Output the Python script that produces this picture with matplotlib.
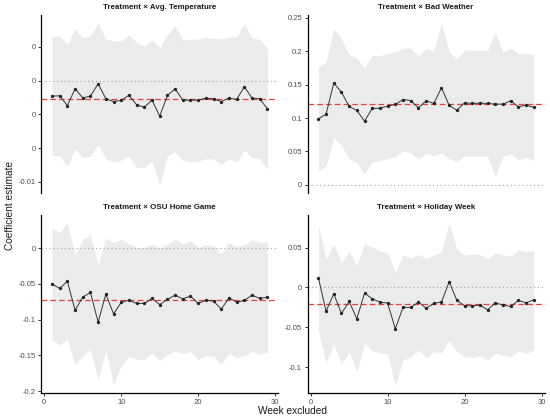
import numpy as np
import matplotlib
matplotlib.use("Agg")
import matplotlib.pyplot as plt

plt.rcParams['font.family'] = ['Liberation Sans', 'DejaVu Sans']

weeks = list(range(1, 30))

# Treatment x Avg. Temperature
temp_est = [-0.00114, -0.00112, -0.00184, -0.00060, -0.00127, -0.00114, -0.00022, -0.00134, -0.00154, -0.00146,
            -0.00107, -0.00179, -0.00196, -0.00144, -0.00263, -0.00109, -0.00060, -0.00144, -0.00144, -0.00144,
            -0.00129, -0.00134, -0.00154, -0.00129, -0.00139, -0.00045, -0.00129, -0.00134, -0.00209]
temp_ci = [0.00442, 0.00444, 0.00449, 0.00447, 0.00442, 0.00447, 0.00449, 0.00442, 0.00449, 0.00442,
           0.00449, 0.00462, 0.00447, 0.00447, 0.00509, 0.00447, 0.00467, 0.00444, 0.00454, 0.00452,
           0.00449, 0.00447, 0.00464, 0.00454, 0.00464, 0.00467, 0.00442, 0.00442, 0.00447]
temp_full = -0.00137
temp_ticks = [0.0025, 0.0, -0.0025, -0.005, -0.0075]
temp_labels = ['0', '0', '0', '0', '-0.01']

# Treatment x Bad Weather
weather_est = [0.0988, 0.1058, 0.1522, 0.1387, 0.1173, 0.1113, 0.0953, 0.1143, 0.1148, 0.1178,
               0.1203, 0.1277, 0.1262, 0.1153, 0.1258, 0.1218, 0.1452, 0.1188, 0.1118, 0.1228,
               0.1218, 0.1223, 0.1218, 0.1208, 0.1208, 0.1258, 0.1168, 0.1193, 0.1158]
weather_ci = [0.0778, 0.0778, 0.0813, 0.0798, 0.0778, 0.0783, 0.0793, 0.0793, 0.0788, 0.0783,
              0.0783, 0.0768, 0.0783, 0.0768, 0.0788, 0.0778, 0.0968, 0.0798, 0.0768, 0.0793,
              0.0793, 0.0788, 0.0793, 0.1078, 0.0778, 0.0788, 0.0793, 0.0778, 0.0793]
weather_full = 0.121
weather_ticks = [0, 0.05, 0.1, 0.15, 0.2, 0.25]
weather_labels = ['0', '0.05', '0.1', '0.15', '0.2', '0.25']

# Treatment x OSU Home Game
osu_est = [-0.0499, -0.0564, -0.0462, -0.0867, -0.0685, -0.0620, -0.1035, -0.0643, -0.0918, -0.0760,
           -0.0727, -0.0774, -0.0774, -0.0704, -0.0788, -0.0718, -0.0657, -0.0709, -0.0671, -0.0774,
           -0.0727, -0.0741, -0.0853, -0.0695, -0.0755, -0.0732, -0.0657, -0.0704, -0.0685]
osu_ci = [0.0783, 0.0788, 0.0811, 0.0769, 0.0811, 0.0797, 0.0802, 0.0783, 0.0993, 0.0886,
          0.0783, 0.0783, 0.0778, 0.0760, 0.0783, 0.0774, 0.0783, 0.0764, 0.0774, 0.0783,
          0.0774, 0.0769, 0.0774, 0.0769, 0.0774, 0.0774, 0.0778, 0.0783, 0.0769]
osu_full = -0.0723
osu_ticks = [0, -0.05, -0.1, -0.15, -0.2]
osu_labels = ['0', '-0.05', '-0.1', '-0.15', '-0.2']

# Treatment x Holiday Week
holiday_est = [0.0122, -0.0298, -0.0080, -0.0327, -0.0176, -0.0394, -0.0071, -0.0143, -0.0184, -0.0197,
               -0.0520, -0.0251, -0.0251, -0.0184, -0.0260, -0.0201, -0.0184, 0.0071, -0.0163, -0.0230,
               -0.0230, -0.0222, -0.0281, -0.0193, -0.0222, -0.0239, -0.0163, -0.0193, -0.0155]
holiday_ci = [0.0662, 0.0649, 0.0629, 0.0637, 0.0633, 0.0662, 0.0624, 0.0649, 0.0641, 0.0633,
              0.0704, 0.0658, 0.0624, 0.0599, 0.0624, 0.0608, 0.0633, 0.0737, 0.0641, 0.0637,
              0.0649, 0.0637, 0.0633, 0.0629, 0.0629, 0.0633, 0.0633, 0.0641, 0.0624]
holiday_full = -0.0205
holiday_ticks = [0.05, 0, -0.05, -0.1]
holiday_labels = ['0.05', '0', '-0.05', '-0.1']

x_ticks = [0, 10, 20, 30]

W, H = 550, 420


def panel(rect, title, est, ci, full, yticks, ylabels, bottom):
    ax = fig.add_axes([rect[0] / W, 1 - (rect[1] + rect[3]) / H, rect[2] / W, rect[3] / H])
    est = np.array(est)
    ci = np.array(ci)
    lo, hi = est - ci, est + ci
    ax.fill_between(weeks, lo, hi, color='#EBEBEB', linewidth=0)
    ax.axhline(0, color='#A0A0A0', linestyle=(0, (1, 2.5)), linewidth=0.8)
    ax.axhline(full, color='#E8413A', linestyle=(0, (4.5, 2.5)), linewidth=0.9)
    ax.plot(weeks, est, color='#333333', linewidth=0.7, marker='o', markersize=2.4,
            markerfacecolor='#222222', markeredgewidth=0)

    ymin, ymax = min(lo.min(), 0, full), max(hi.max(), 0, full)
    pad = (ymax - ymin) * 0.05
    ax.set_ylim(ymin - pad, ymax + pad)
    ax.set_xlim(-0.4, 30.4)
    ax.set_yticks(yticks)
    ax.set_yticklabels(ylabels)
    ax.set_xticks(x_ticks)

    for s in ['top', 'right']:
        ax.spines[s].set_visible(False)
    ax.spines['left'].set_linewidth(0.9)
    ax.tick_params(axis='both', labelsize=5.5, width=0.7, length=2.5, pad=1.5, colors='#333333',
                   labelcolor='#4D4D4D')
    if bottom:
        ax.spines['bottom'].set_linewidth(0.9)
    else:
        ax.spines['bottom'].set_visible(False)
        ax.tick_params(axis='x', bottom=False, labelbottom=False)
    ax.set_title(title, fontsize=5.7, fontweight='bold', pad=4, color='#1A1A1A')
    return ax


fig = plt.figure(figsize=(W / 100, H / 100), dpi=100)

panel((41.2, 15, 237, 178), 'Treatment × Avg. Temperature', temp_est, temp_ci, temp_full,
      temp_ticks, temp_labels, False)
panel((307.6, 15, 237, 178), 'Treatment × Bad Weather', weather_est, weather_ci, weather_full,
      weather_ticks, weather_labels, False)
panel((41.2, 215, 237, 178), 'Treatment × OSU Home Game', osu_est, osu_ci, osu_full,
      osu_ticks, osu_labels, True)
panel((307.6, 215, 237, 178), 'Treatment × Holiday Week', holiday_est, holiday_ci, holiday_full,
      holiday_ticks, holiday_labels, True)

fig.text(292 / W, 1 - 411 / H, 'Week excluded', ha='center', va='center', fontsize=7.3, color='#1A1A1A')
fig.text(10 / W, 1 - 205 / H, 'Coefficient estimate', ha='center', va='center', rotation=90,
         fontsize=7.3, color='#1A1A1A')

fig.savefig('out.png', dpi=100)
